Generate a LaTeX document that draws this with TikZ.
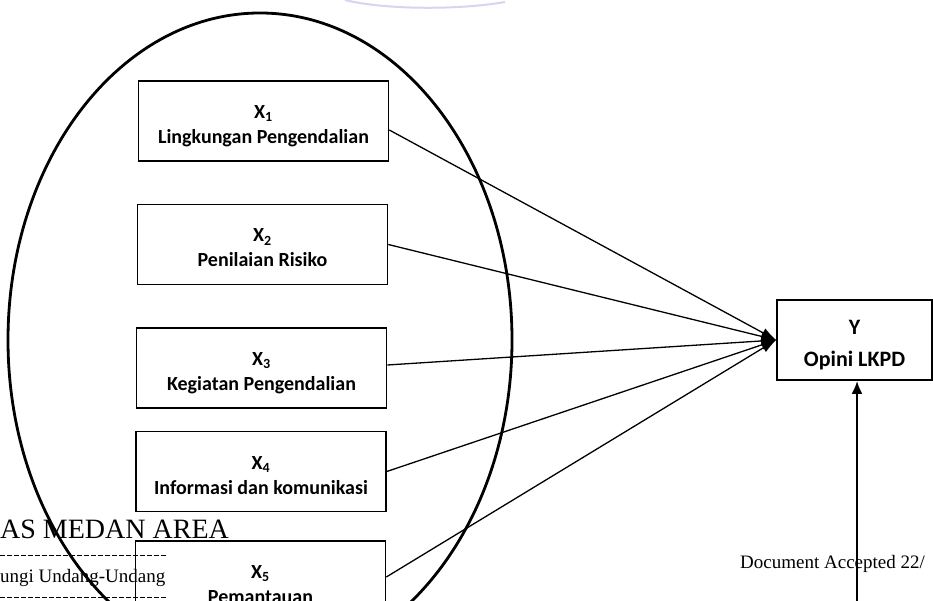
\documentclass[tikz,border=0pt]{standalone}
\usepackage{fontspec}
\setmainfont{Carlito}
\newfontfamily\wmfont{Liberation Serif}
\usetikzlibrary{arrows.meta}
\definecolor{wmlilac}{RGB}{214,212,240}

\begin{document}
\begin{tikzpicture}[x=1pt,y=-1pt,
    var/.style={draw,line width=1.6pt,minimum width=250pt,minimum height=80pt,
      align=center,inner sep=0pt,font=\fontsize{20}{25}\selectfont\bfseries,
      text height=50pt,text depth=5pt},
    link/.style={line width=1.3pt,-{Latex[length=15pt,width=10pt]}},
    wmtext/.style={inner sep=0pt,anchor=base west,font=\wmfont\fontsize{19}{22}\selectfont},
    wmrule/.style={dash pattern=on 5pt off 2pt,line width=0.6pt}]
  \clip (0,0) rectangle (933,601);

  % leftovers of the page watermark / footer
  \draw[wmlilac,line width=2pt] (345,0) .. controls (385,10) and (460,10) .. (505,2);
  \node[wmtext,font=\wmfont\fontsize{28}{30}\selectfont] (wmtitle) at (0,538) {AS MEDAN AREA};
  \draw[wmrule] (0,555) -- (167,555);
  \node[wmtext] (wmlaw) at (0,582) {ungi Undang-Undang};
  \draw[wmrule] (0,597) -- (167,597);
  \node[wmtext] (wmdoc) at (740,568) {Document Accepted 22/};

  % ellipse round the X variables
  \draw[line width=2.8pt] (260,340) ellipse [x radius=252pt, y radius=327pt];

  \node[var] (x1) at (263.5,121) {X\textsubscript{1}\\Lingkungan Pengendalian};
  \node[var] (x2) at (262.5,244.5) {X\textsubscript{2}\\Penilaian Risiko};
  \node[var] (x3) at (261.5,368) {X\textsubscript{3}\\Kegiatan Pengendalian};
  \node[var] (x4) at (261,471.5) {X\textsubscript{4}\\Informasi dan komunikasi};
  \node[var] (x5) at (260.5,581) {X\textsubscript{5}\\Pemantauan};

  \node[var,minimum width=155pt,font=\fontsize{22}{32}\selectfont\bfseries,
    text height=58pt] (y) at (854.5,340) {Y\\Opini LKPD};

  \draw[link] ([yshift=-9pt]x1.east) -- (y.west);
  \draw[link] (x2.east) -- (y.west);
  \draw[link] ([yshift=3pt]x3.east) -- (y.west);
  \draw[link] (x4.east) -- (y.west);
  \draw[link] ([yshift=4pt]x5.east) -- (y.west);

  % arrow coming up from below the page
  \coordinate (ybelow) at (857,620);
  \draw[line width=2.6pt,-{Latex[length=13pt,width=11pt]}] (ybelow) -- ([xshift=2.5pt]y.south);
\end{tikzpicture}
\end{document}
